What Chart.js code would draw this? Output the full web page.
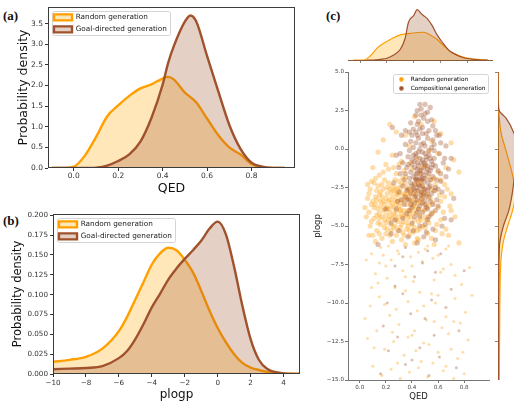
<!DOCTYPE html>
<html>
<head>
<meta charset="utf-8">
<script src="https://cdn.jsdelivr.net/npm/chart.js@4.4.1/dist/chart.umd.min.js"></script>
<style>
    html, body { margin: 0; padding: 0; background: #fff; }
    body { width: 514px; height: 402px; position: relative; overflow: hidden; }
    .box { position: absolute; }
    .tag { position: absolute; font-family: 'Liberation Serif', serif; font-weight: bold; font-size: 13px; line-height: 1; color: #111; }
</style>
</head>
<body>
<div class="tag" style="left:3px; top:9px;">(a)</div>
<div class="tag" style="left:3px; top:214px;">(b)</div>
<div class="tag" style="left:326px; top:9px;">(c)</div>
<div class="box" style="left:10px; top:0; width:290px; height:200px;"><canvas id="qedChart"></canvas></div>
<div class="box" style="left:5px; top:200px; width:295px; height:202px;"><canvas id="plogpChart"></canvas></div>
<div class="box" style="left:308px; top:66px; width:185px; height:336px;"><canvas id="scatterChart"></canvas></div>
<div class="box" style="left:348px; top:0; width:145px; height:64px;"><canvas id="topChart"></canvas></div>
<div class="box" style="left:494px; top:72px; width:60px; height:308px;"><canvas id="sideChart"></canvas></div>
<script>
// (a) QED densities, [qed, density]
const qedRandom = [[-0.1, 0], [-0.05, 0], [0, 0.03], [0.05, 0.3], [0.1, 0.75], [0.15, 1.25], [0.2, 1.52], [0.25, 1.75],
    [0.3, 1.93], [0.35, 2.03], [0.4, 2.17], [0.425, 2.21], [0.45, 2.15], [0.5, 1.83], [0.525, 1.72], [0.55, 1.6],
    [0.6, 1.2], [0.65, 0.8], [0.7, 0.5], [0.75, 0.33], [0.8, 0.1], [0.85, 0.02], [0.9, 0], [0.95, 0]];
const qedGoal = [[-0.1, 0], [0, 0], [0.05, 0], [0.1, 0.01], [0.15, 0.06], [0.2, 0.17], [0.25, 0.33], [0.3, 0.64],
    [0.35, 1.22], [0.4, 2.02], [0.425, 2.55], [0.45, 2.95], [0.5, 3.55], [0.525, 3.7], [0.55, 3.57], [0.6, 2.72],
    [0.65, 1.87], [0.7, 1.05], [0.75, 0.47], [0.8, 0.13], [0.85, 0.03], [0.9, 0], [0.95, 0]];
const qedTicks = [0, 0.2, 0.4, 0.6, 0.8];
const qedDensityTicks = [0, 0.5, 1, 1.5, 2, 2.5, 3, 3.5];

// (b) plogp densities, [plogp, density]
const plogpRandom = [[-10, 0.0152], [-9, 0.0178], [-8, 0.0217], [-7, 0.032], [-6, 0.054], [-5.5, 0.072], [-5, 0.094],
    [-4.5, 0.116], [-4, 0.138], [-3.5, 0.152], [-3, 0.159], [-2.5, 0.156], [-2, 0.144], [-1.5, 0.128], [-1, 0.105],
    [-0.5, 0.08], [0, 0.058], [0.5, 0.04], [1, 0.025], [1.5, 0.014], [2, 0.008], [2.5, 0.005], [3, 0.0026], [4, 0.0008], [5, 0.0002]];
const plogpGoal = [[-10, 0.006], [-9, 0.0068], [-8, 0.0076], [-7, 0.01], [-6, 0.02], [-5.5, 0.029], [-5, 0.044],
    [-4.5, 0.063], [-4, 0.084], [-3.5, 0.101], [-3, 0.119], [-2.5, 0.133], [-2, 0.145], [-1.5, 0.156], [-1, 0.168],
    [-0.5, 0.183], [0, 0.192], [0.5, 0.176], [1, 0.135], [1.5, 0.086], [2, 0.044], [2.5, 0.018], [3, 0.0065], [4, 0.0008], [5, 0.0001]];
const plogpTicks = [-10, -8, -6, -4, -2, 0, 2, 4];
const plogpDensityTicks = [0, 0.025, 0.05, 0.075, 0.1, 0.125, 0.15, 0.175, 0.2];

// (c) marginals
const topRandom = [[-0.05, 0], [0.025, 0], [0.075, 0.3], [0.125, 0.87], [0.175, 1.24], [0.225, 1.53], [0.275, 1.78],
    [0.325, 1.93], [0.375, 1.98], [0.425, 2.05], [0.475, 2.07], [0.525, 1.85], [0.575, 1.53], [0.625, 1.04],
    [0.675, 0.61], [0.725, 0.37], [0.775, 0.2], [0.825, 0.1], [0.875, 0.04], [0.95, 0]];
const topComp = [[0.05, 0], [0.1, 0], [0.15, 0.05], [0.2, 0.13], [0.25, 0.37], [0.3, 0.8], [0.335, 1.6], [0.36, 2.8],
    [0.4, 3.33], [0.425, 3.75], [0.46, 3.41], [0.5, 3.09], [0.535, 2.6], [0.575, 1.85], [0.61, 1.36], [0.66, 0.74],
    [0.71, 0.42], [0.77, 0.17], [0.85, 0.05], [0.9, 0], [0.95, 0]];
const sideRandom = [[-15, 0.012], [-14, 0.013], [-13, 0.014], [-12, 0.015], [-11, 0.016], [-10, 0.017], [-9, 0.019],
    [-8, 0.022], [-7, 0.03], [-6, 0.05], [-5, 0.09], [-4, 0.135], [-3, 0.16], [-2, 0.145], [-1, 0.11], [0, 0.07],
    [1, 0.03], [2, 0.012], [3, 0.005], [4, 0.002], [5, 0.0005]];
const sideComp = [[-15, 0.004], [-12, 0.005], [-10, 0.006], [-8, 0.008], [-7, 0.01], [-6, 0.018], [-5, 0.05], [-4, 0.1],
    [-3, 0.13], [-2, 0.15], [-1, 0.18], [0, 0.19], [1, 0.15], [2, 0.075], [2.5, 0.01], [3, 0.002], [4, 0.001], [5, 0]];
const scatterPlogpTicks = [-15, -12.5, -10, -7.5, -5, -2.5, 0, 2.5, 5];

// (c) scatter, [qed, plogp]
const scatterRandom = [
    [0.12,-3.1],[0.15,-4.2],[0.18,-2.6],[0.21,-3.8],[0.24,-4.9],[0.27,-3.3],[0.30,-2.1],[0.33,-4.4],[0.36,-3.6],[0.39,-2.8],
    [0.42,-5.1],[0.45,-3.9],[0.48,-2.4],[0.51,-4.6],[0.54,-3.2],[0.57,-1.9],[0.13,-5.3],[0.16,-3.7],[0.19,-4.6],[0.22,-2.2],
    [0.25,-3.5],[0.28,-5.6],[0.31,-4.0],[0.34,-2.9],[0.37,-5.0],[0.40,-3.4],[0.43,-2.0],[0.46,-4.3],[0.49,-3.0],[0.52,-5.5],
    [0.55,-2.6],[0.60,-3.8],[0.11,-4.5],[0.14,-2.4],[0.17,-5.8],[0.20,-3.2],[0.23,-4.1],[0.26,-2.7],[0.29,-4.7],[0.32,-3.5],
    [0.35,-1.8],[0.38,-4.2],[0.41,-3.7],[0.44,-5.3],[0.47,-2.9],[0.50,-3.9],[0.53,-4.8],[0.58,-2.7],[0.62,-4.6],[0.65,-3.1],
    [0.09,-3.6],[0.18,-3.4],[0.21,-5.2],[0.24,-2.8],[0.27,-4.3],[0.30,-3.7],[0.33,-5.4],[0.36,-2.5],[0.39,-3.9],[0.42,-4.6],
    [0.45,-2.2],[0.48,-5.0],[0.51,-3.6],[0.56,-4.1],[0.15,-3.0],[0.22,-3.9],[0.29,-3.0],[0.34,-4.0],[0.26,-5.1],[0.31,-2.6],
    [0.37,-3.2],[0.43,-3.0],[0.19,-2.0],[0.25,-6.0],[0.35,-6.2],[0.45,-5.9],[0.55,-5.8],[0.66,-5.2],[0.70,-4.0],[0.08,-2.6],
    [0.62,-2.0],[0.28,-1.6],[0.40,-1.3],[0.16,-6.4],[0.12,-1.9],[0.23,-3.3],[0.28,-4.0],[0.32,-4.9],[0.17,-4.4],[0.38,-5.6],
    [0.07,-4.1],[0.10,-3.4],[0.13,-2.7],[0.16,-4.9],[0.19,-3.9],[0.22,-4.6],[0.25,-2.4],[0.28,-3.6],[0.31,-5.1],[0.34,-3.3],
    [0.37,-4.5],[0.40,-2.6],[0.43,-3.8],[0.46,-5.2],[0.49,-4.0],[0.08,-5.0],[0.11,-2.2],[0.14,-3.9],[0.17,-3.1],[0.20,-4.3],
    [0.23,-5.6],[0.26,-3.8],[0.29,-2.5],[0.32,-4.2],[0.35,-3.0],[0.38,-5.3],[0.41,-4.1],[0.44,-2.7],[0.47,-3.5],[0.50,-4.4],
    [0.06,-3.2],[0.09,-4.7],[0.12,-3.6],[0.15,-5.5],[0.18,-4.0],[0.21,-2.9],[0.24,-3.7],[0.27,-5.0],[0.30,-4.4],[0.33,-3.0],
    [0.36,-4.8],[0.39,-3.3],[0.42,-2.3],[0.45,-4.7],[0.48,-3.2],[0.10,-5.6],[0.13,-4.3],[0.16,-2.8],[0.19,-5.1],[0.22,-3.4],
    [0.25,-4.5],[0.28,-2.9],[0.31,-3.3],[0.34,-5.6],[0.37,-2.7],[0.40,-4.9],[0.43,-4.2],[0.46,-3.4],[0.52,-2.9],[0.54,-4.3],
    [0.14,-4.8],[0.17,-2.3],[0.20,-5.5],[0.23,-2.6],[0.26,-4.2],[0.29,-3.4],[0.32,-2.3],[0.35,-4.3],[0.38,-3.0],[0.41,-5.4],
    [0.44,-3.5],[0.47,-4.6],[0.56,-3.5],[0.59,-4.9],[0.61,-3.0],[0.64,-4.1],[0.58,-2.3],[0.63,-5.5],[0.67,-2.6],[0.69,-3.7],
    [0.12,-6.0],[0.22,-6.3],[0.32,-5.9],[0.42,-6.1],[0.52,-6.3],[0.18,-1.5],[0.26,-1.2],[0.34,-1.4],[0.46,-1.6],[0.52,-1.8],
    [0.05,-4.4],[0.07,-2.9],[0.15,-1.7],[0.22,-1.3],[0.30,-1.0],[0.39,-0.9],[0.48,-1.2],[0.55,-2.0],[0.60,-1.5],[0.65,-2.3],
    [0.27,-2.0],[0.33,-1.9],[0.21,-2.5],[0.24,-5.3],[0.36,-5.2],[0.44,-5.8],[0.50,-5.1],[0.16,-3.4],[0.28,-4.6],[0.30,-2.8],
    [0.13,-3.3],[0.19,-3.6],[0.25,-3.1],[0.31,-3.9],[0.37,-4.0],[0.43,-3.3],[0.49,-2.7],[0.35,-2.2],[0.40,-3.6],[0.27,-2.6],
    [0.20,-4.8],[0.29,-5.3],[0.39,-4.4],[0.11,-3.8],[0.15,-4.5],[0.23,-4.4],[0.33,-4.7],[0.41,-2.9],[0.47,-2.1],[0.53,-3.7],
    [0.58,-5.3],[0.62,-3.4],[0.70,-2.9],[0.73,-4.4],[0.68,-5.6],[0.07,-5.6],[0.04,-3.8],[0.09,-2.1],[0.57,-6.2],[0.66,-6.5],
    [0.20,-1.0],[0.25,-0.4],[0.32,-0.8],[0.38,0.2],[0.44,-0.6],[0.50,-1.1],[0.55,0.5],[0.60,-0.3],[0.66,-1.2],[0.72,-0.7],
    [0.18,0.6],[0.28,1.1],[0.47,1.6],[0.35,0.9],[0.62,1.0],[0.14,-0.2],[0.42,2.1],[0.53,-0.1],[0.70,0.4],[0.10,-1.2],
    [0.57,1.8],[0.23,1.6],[0.76,-1.5],[0.06,-2.3],
    [0.05,-7.2],[0.12,-8.1],[0.20,-7.6],[0.27,-9.0],[0.33,-7.9],[0.41,-8.6],[0.48,-7.3],[0.55,-9.4],[0.62,-8.0],[0.70,-7.5],
    [0.78,-8.8],[0.84,-7.7],[0.08,-10.2],[0.15,-9.6],[0.23,-10.8],[0.30,-11.4],[0.37,-9.9],[0.44,-10.5],[0.51,-11.1],[0.58,-10.0],
    [0.66,-10.9],[0.73,-9.7],[0.81,-10.6],[0.06,-12.3],[0.13,-11.8],[0.19,-13.0],[0.26,-12.5],[0.34,-13.4],[0.40,-12.1],[0.47,-13.8],
    [0.53,-12.7],[0.60,-13.2],[0.68,-12.0],[0.75,-13.6],[0.83,-12.4],[0.10,-14.1],[0.17,-14.7],[0.24,-14.3],[0.31,-14.9],[0.38,-14.5],
    [0.45,-14.2],[0.52,-14.8],[0.64,-14.4],[0.72,-14.9],[0.80,-14.6],[0.09,-6.8],[0.18,-6.9],[0.29,-6.6],[0.39,-7.0],[0.50,-6.5],
    [0.60,-6.9],[0.68,-6.3],[0.76,-6.1],[0.14,-8.7],[0.35,-8.3],[0.57,-8.5],[0.46,-9.3],[0.25,-11.9],[0.63,-11.6],[0.42,-11.8],
    [0.77,-11.3],[0.21,-8.4],[0.09,-9.0],[0.86,-9.5],[0.49,-12.6],[0.29,-13.9],[0.57,-11.2],[0.70,-13.0],[0.04,-11.0],
    [0.30,-6.8],[0.45,-6.7],[0.24,-7.2],[0.40,-7.6],[0.56,-7.1],[0.15,-7.4],[0.64,-7.8],[0.73,-8.2],[0.35,-9.2],[0.60,-9.5],
    [0.19,-10.1],[0.49,-10.2],[0.28,-10.4],[0.72,-11.2],[0.11,-12.9],[0.37,-12.2],[0.56,-13.9],[0.66,-14.1],[0.79,-13.2],[0.43,-13.1]
];
const scatterComp = [
    [0.40,-1.0],[0.43,-1.6],[0.46,-0.6],[0.49,-2.1],[0.52,-1.3],[0.45,-2.7],[0.48,-0.2],[0.51,-3.0],[0.42,-2.3],[0.55,-0.8],
    [0.38,-1.9],[0.47,-1.4],[0.50,-2.6],[0.53,-0.4],[0.44,-3.3],[0.41,0.1],[0.56,-1.8],[0.39,-2.9],[0.46,-3.7],[0.52,-2.2],
    [0.49,0.4],[0.36,-1.2],[0.58,-2.5],[0.43,-0.3],[0.47,-2.0],[0.54,-3.4],[0.35,-3.1],[0.50,-1.0],[0.45,0.7],[0.40,-3.8],
    [0.57,-0.1],[0.33,-2.4],[0.48,-4.1],[0.53,-1.6],[0.42,-1.2],[0.44,-0.9],[0.51,-0.7],[0.46,-1.9],[0.60,-1.4],[0.37,-0.5],
    [0.55,-2.9],[0.31,-1.6],[0.62,-2.1],[0.48,1.0],[0.42,-4.4],[0.52,-3.9],[0.39,0.5],[0.56,0.6],[0.34,-3.6],[0.59,-3.3],
    [0.47,-2.8],[0.44,-2.0],[0.50,-0.3],[0.41,-2.6],[0.49,-1.7],[0.45,-1.1],[0.54,-2.4],[0.38,-3.3],[0.43,0.4],[0.53,1.2],
    [0.30,-2.8],[0.64,-0.9],[0.36,-4.2],[0.58,-4.0],[0.46,-5.0],[0.40,-4.8],[0.28,-3.9],[0.52,-4.6],[0.33,-0.9],[0.61,-0.3],
    [0.26,-2.2],[0.66,-1.8],[0.47,-3.2],[0.43,-3.0],[0.50,-3.6],[0.55,-1.2],[0.39,-1.5],[0.48,-2.4],
    [0.41,-0.4],[0.44,-1.3],[0.47,-0.9],[0.50,-1.9],[0.53,-0.1],[0.46,-2.4],[0.49,-1.2],[0.52,-2.7],[0.43,-2.0],[0.56,-1.0],
    [0.39,-2.2],[0.48,-0.7],[0.51,-1.5],[0.54,-2.0],[0.45,-0.2],[0.42,-3.5],[0.57,-2.7],[0.40,-0.7],[0.47,-3.0],[0.50,0.2],
    [0.37,-2.6],[0.44,0.9],[0.53,-3.1],[0.46,1.3],[0.49,-2.6],[0.55,0.1],[0.38,-0.1],[0.52,0.7],[0.43,-1.9],[0.58,-1.1],
    [0.35,-1.6],[0.60,-2.6],[0.45,-3.9],[0.48,-1.9],[0.51,-0.5],[0.42,-0.8],[0.54,-1.4],[0.47,0.3],[0.40,-2.4],[0.56,-3.6],
    [0.44,-2.5],[0.50,-3.3],[0.46,-1.4],[0.53,-2.5],[0.41,-1.8],[0.49,-0.9],[0.57,-0.6],[0.36,-3.3],[0.62,-1.6],[0.45,1.8],
    [0.48,1.4],[0.51,1.0],[0.43,1.1],[0.55,1.9],[0.47,2.2],[0.50,2.9],[0.44,2.5],[0.52,2.4],[0.39,1.7],[0.58,1.2],
    [0.34,-2.0],[0.32,-3.3],[0.38,-4.0],[0.42,-3.1],[0.55,-4.2],[0.60,-3.7],[0.63,-2.8],[0.65,-0.6],[0.30,-1.2],[0.29,-3.4],
    [0.46,-4.4],[0.50,-4.9],[0.44,-4.1],[0.53,-4.4],[0.39,-3.6],[0.36,-2.7],[0.33,-4.5],[0.41,-5.3],[0.49,-5.7],[0.56,-5.2],
    [0.27,-4.6],[0.31,-0.3],[0.68,-1.3],[0.61,0.9],[0.35,1.2],[0.47,-1.6],[0.52,-1.1],[0.45,-2.3],[0.48,-3.5],[0.43,-0.5],
    [0.40,0.9],[0.57,0.3],[0.59,-2.0],[0.37,-1.0],[0.54,-0.6],[0.46,0.0],[0.49,-2.9],[0.42,-2.7],[0.51,-3.8],[0.44,-1.6],
    [0.44,1.6],[0.49,2.0],[0.47,2.6],[0.52,1.8],[0.41,1.3],[0.56,1.5],[0.46,2.9],[0.38,1.1],[0.59,0.9],[0.50,2.3],
    [0.35,0.3],[0.62,0.4],[0.43,2.2],[0.54,2.7],[0.32,0.9],[0.66,0.2],[0.28,-0.4],[0.70,-0.6],[0.25,1.4],
    [0.30,-5.3],[0.37,-5.7],[0.44,-6.1],[0.51,-5.4],[0.58,-5.9],[0.24,-4.8],[0.65,-4.5],[0.20,-3.9],[0.72,-3.2],[0.33,-7.0],
    [0.48,-7.4],[0.62,-6.8],[0.27,-8.9],[0.55,-9.8],[0.39,-10.7],[0.70,-9.1],[0.18,-11.5],[0.46,-12.9],[0.61,-13.5],[0.35,-14.0],
    [0.76,-11.8],[0.14,-6.2],[0.80,-7.9],[0.22,-13.1],
    [0.24,-5.5],[0.35,-6.4],[0.52,-6.6],[0.63,-5.0],[0.70,-4.6],[0.27,-7.6],[0.42,-8.3],[0.58,-8.0],[0.33,-9.4],[0.66,-10.3],
    [0.21,-10.0],[0.50,-11.0],[0.29,-12.2],[0.57,-12.1],[0.40,-13.7],[0.74,-14.2],[0.16,-14.6],[0.53,-14.7]
];

const FONT = 'DejaVu Sans';
const ORANGE = '#ffa000';
const SIENNA = '#a0522d';
const ORANGE_FILL = 'rgba(255,165,0,0.27)';
const SIENNA_FILL = 'rgba(160,82,45,0.27)';

Chart.defaults.animation = false;
Chart.defaults.font.family = FONT;

const fmt = (v, d) => v.toFixed(d).replace('-', '\u2212');

// matplotlib-like box around the axes
const frame = {
    id: 'frame',
    afterDatasetsDraw(chart) {
        const { ctx, chartArea: a } = chart;
        ctx.save();
        ctx.strokeStyle = '#3c3c3c';
        ctx.lineWidth = 1;
        ctx.strokeRect(a.left + 0.5, a.top + 0.5, a.right - a.left - 1, a.bottom - a.top - 1);
        ctx.restore();
    }
};

// put the legend inside the axes and draw its rounded frame
const legendPlace = {
    id: 'legendPlace',
    afterLayout(chart, args, opts) {
        const lg = chart.legend, a = chart.chartArea;
        if (!lg || !opts || opts.dx === undefined) return;
        lg.left = opts.right ? a.right - lg.width - opts.dx : a.left + opts.dx;
        lg.top = a.top + opts.dy;
        lg.right = lg.left + lg.width + 6;
        lg.bottom = lg.top + lg.height;
    },
    beforeDraw(chart, args, opts) {
        const hb = chart.legend && chart.legend.legendHitBoxes;
        if (!hb || !hb.length || !opts || opts.dx === undefined) return;
        const p = opts.pad;
        const l = Math.min(...hb.map(b => b.left)) - p[0];
        const t = Math.min(...hb.map(b => b.top)) - p[1];
        const r = Math.max(...hb.map(b => b.left + b.width)) + p[2];
        const btm = Math.max(...hb.map(b => b.top + b.height)) + p[3];
        const ctx = chart.ctx;
        ctx.save();
        ctx.beginPath();
        ctx.roundRect(Math.round(l) + 0.5, Math.round(t) + 0.5, Math.round(r - l), Math.round(btm - t), 2);
        ctx.fillStyle = 'rgba(255,255,255,0.85)';
        ctx.fill();
        ctx.strokeStyle = '#d4d4d4';
        ctx.lineWidth = 1;
        ctx.stroke();
        ctx.restore();
    }
};

function toPoints(pairs) {
    return pairs.map(p => ({ x: p[0], y: p[1] }));
}

function densityChart(id, cfg) {
    const ctx = document.getElementById(id).getContext('2d');
    return new Chart(ctx, {
        type: 'line',
        data: {
            datasets: [{
                label: 'Random generation',
                data: toPoints(cfg.random),
                borderColor: ORANGE,
                backgroundColor: ORANGE_FILL,
                borderWidth: 2.4,
                fill: 'origin',
                order: 1
            }, {
                label: 'Goal-directed generation',
                data: toPoints(cfg.goal),
                borderColor: SIENNA,
                backgroundColor: SIENNA_FILL,
                borderWidth: 2.4,
                fill: 'origin',
                order: 0
            }]
        },
        options: {
            responsive: true,
            maintainAspectRatio: false,
            layout: { padding: cfg.padding },
            elements: { point: { radius: 0 }, line: { cubicInterpolationMode: 'monotone' } },
            plugins: {
                legend: {
                    position: 'chartArea',
                    align: 'start',
                    labels: {
                        boxWidth: 18, boxHeight: 6, padding: 4.7, color: '#222', font: { size: 7.3 },
                        sort: (a, b) => a.datasetIndex - b.datasetIndex
                    }
                },
                legendPlace: { dx: cfg.legendDx, dy: cfg.legendDy, pad: [2, 2.5, 3.5, 2] },
                tooltip: { enabled: false }
            },
            scales: {
                x: {
                    type: 'linear',
                    min: cfg.xMin,
                    max: cfg.xMax,
                    afterBuildTicks: s => { s.ticks = cfg.xTicks.map(v => ({ value: v })); },
                    afterFit: s => { s.height = cfg.xHeight; },
                    ticks: { callback: v => fmt(v, cfg.xDigits), color: '#333', font: { size: cfg.tickSize }, padding: cfg.xTickPad, maxRotation: 0, autoSkip: false },
                    grid: { drawOnChartArea: false, tickLength: 3, color: '#333' },
                    border: { display: false },
                    title: { display: true, text: cfg.xTitle, color: '#111', font: { size: cfg.xTitleSize }, padding: { top: 0, bottom: cfg.xTitlePad } }
                },
                y: {
                    type: 'linear',
                    min: 0,
                    max: cfg.yMax,
                    afterBuildTicks: s => { s.ticks = cfg.yTicks.map(v => ({ value: v })); },
                    afterFit: s => { s.width = cfg.yWidth; },
                    ticks: { callback: v => fmt(v, cfg.yDigits), color: '#333', font: { size: cfg.tickSize }, padding: 2, autoSkip: false },
                    grid: { drawOnChartArea: false, tickLength: 3, color: '#333' },
                    border: { display: false },
                    title: { display: true, text: 'Probability density', color: '#111', font: { size: cfg.yTitleSize }, padding: { top: cfg.yTitlePad, bottom: 0 } }
                }
            }
        },
        plugins: [frame, legendPlace]
    });
}

// (a) QED
densityChart('qedChart', {
    random: qedRandom, goal: qedGoal,
    xMin: -0.116, xMax: 0.996, yMax: 3.905,
    xTicks: qedTicks, yTicks: qedDensityTicks, xDigits: 1, yDigits: 1,
    xTitle: 'QED', xTitleSize: 12.5, yTitleSize: 12.5, tickSize: 7.5,
    padding: { top: 7, right: 5, left: 0, bottom: 0 },
    xHeight: 32, yWidth: 38, xTickPad: 1, xTitlePad: 4, yTitlePad: 6,
    legendDx: 1.3, legendDy: 2
});

// (b) plogp
densityChart('plogpChart', {
    random: plogpRandom, goal: plogpGoal,
    xMin: -10, xMax: 5, yMax: 0.2016,
    xTicks: plogpTicks, yTicks: plogpDensityTicks, xDigits: 0, yDigits: 3,
    xTitle: 'plogp', xTitleSize: 12, yTitleSize: 11.5, tickSize: 7.2,
    padding: { top: 14, right: 0, left: 0, bottom: 0 },
    xHeight: 28, yWidth: 48, xTickPad: 2, xTitlePad: 0, yTitlePad: 6,
    legendDx: 1.3, legendDy: 2
});

// (c) scatter with marginal densities
function dot(color) {
    const c = document.createElement('canvas');
    c.width = 5;
    c.height = 5;
    const g = c.getContext('2d');
    g.fillStyle = color;
    g.beginPath();
    g.arc(2.5, 2.5, 2.2, 0, Math.PI * 2);
    g.fill();
    return c;
}
const legendDots = [dot(ORANGE), dot(SIENNA)];

// the dense cloud uses bigger marks than the sparse low-plogp tail
const cloudRadius = c => (c.raw && c.raw[1] < -6.2 ? 1.5 : 2.6);

new Chart(document.getElementById('scatterChart').getContext('2d'), {
    type: 'scatter',
    data: {
        datasets: [{
            label: 'Random generation',
            data: scatterRandom,
            backgroundColor: 'rgba(255,160,20,0.36)',
            borderWidth: 0,
            pointRadius: cloudRadius,
            order: 1
        }, {
            label: 'Compositional generation',
            data: scatterComp,
            backgroundColor: 'rgba(160,82,45,0.36)',
            borderWidth: 0,
            pointRadius: cloudRadius,
            order: 0
        }]
    },
    options: {
        responsive: true,
        maintainAspectRatio: false,
        layout: { padding: { top: 6, right: 0, left: 0, bottom: 0 } },
        plugins: {
            legend: {
                position: 'chartArea',
                align: 'start',
                labels: {
                    usePointStyle: true,
                    pointStyleWidth: 13,
                    padding: 3.2,
                    color: '#222',
                    font: { size: 5.8 },
                    generateLabels: chart => chart.data.datasets.map((ds, i) => ({
                        text: ds.label, datasetIndex: i, pointStyle: legendDots[i],
                        fillStyle: 'transparent', strokeStyle: 'transparent', lineWidth: 0, hidden: false
                    }))
                }
            },
            legendPlace: { right: true, dx: -6.5, dy: 1.2, pad: [1.8, 2, 2.3, 2] },
            tooltip: { enabled: false }
        },
        scales: {
            x: {
                type: 'linear',
                min: -0.09,
                max: 0.99,
                afterBuildTicks: s => { s.ticks = qedTicks.map(v => ({ value: v })); },
                afterFit: s => { s.height = 22; },
                ticks: { callback: v => fmt(v, 1), color: '#444', font: { size: 5.6 }, padding: 1, maxRotation: 0, autoSkip: false },
                grid: { drawOnChartArea: false, tickLength: 3, color: '#777' },
                border: { color: '#777' },
                title: { display: true, text: 'QED', color: '#222', font: { size: 8.5 }, padding: { top: 0, bottom: 0 } }
            },
            y: {
                type: 'linear',
                min: -15,
                max: 5,
                afterBuildTicks: s => { s.ticks = scatterPlogpTicks.map(v => ({ value: v })); },
                afterFit: s => { s.width = 40; },
                ticks: { callback: v => fmt(v, 1), color: '#444', font: { size: 5.6 }, padding: 1, autoSkip: false },
                grid: { drawOnChartArea: false, tickLength: 3, color: '#777' },
                border: { color: '#777' },
                title: { display: true, text: 'plogp', color: '#222', font: { size: 8.5 }, padding: { top: 5, bottom: 0 } }
            }
        }
    },
    plugins: [legendPlace]
});

// top marginal: QED density
new Chart(document.getElementById('topChart').getContext('2d'), {
    type: 'line',
    data: {
        datasets: [{
            data: toPoints(topRandom), borderColor: ORANGE, backgroundColor: ORANGE_FILL,
            borderWidth: 1.2, fill: 'origin', order: 1
        }, {
            data: toPoints(topComp), borderColor: SIENNA, backgroundColor: SIENNA_FILL,
            borderWidth: 1.2, fill: 'origin', order: 0
        }]
    },
    options: {
        responsive: true,
        maintainAspectRatio: false,
        layout: { padding: { top: 5, right: 0, left: 0, bottom: 0 } },
        elements: { point: { radius: 0 }, line: { cubicInterpolationMode: 'monotone' } },
        plugins: { legend: { display: false }, tooltip: { enabled: false } },
        scales: {
            x: {
                type: 'linear', min: -0.09, max: 0.99,
                afterBuildTicks: s => { s.ticks = qedTicks.map(v => ({ value: v })); },
                afterFit: s => { s.height = 4; },
                ticks: { display: false },
                grid: { drawOnChartArea: false, tickLength: 3, color: '#888' },
                border: { color: '#8c5a32' }
            },
            y: { type: 'linear', min: 0, max: 4.1, display: false }
        }
    }
});

// right marginal: plogp density
new Chart(document.getElementById('sideChart').getContext('2d'), {
    type: 'line',
    data: {
        datasets: [{
            data: toPoints(sideRandom.map(p => [p[1], p[0]])), borderColor: ORANGE, backgroundColor: ORANGE_FILL,
            borderWidth: 1.2, fill: 'origin', order: 1
        }, {
            data: toPoints(sideComp.map(p => [p[1], p[0]])), borderColor: SIENNA, backgroundColor: SIENNA_FILL,
            borderWidth: 1.2, fill: 'origin', order: 0
        }]
    },
    options: {
        indexAxis: 'y',
        responsive: true,
        maintainAspectRatio: false,
        layout: { padding: 0 },
        elements: { point: { radius: 0 }, line: { cubicInterpolationMode: 'monotone' } },
        plugins: { legend: { display: false }, tooltip: { enabled: false } },
        scales: {
            x: { type: 'linear', min: 0, max: 0.52, display: false },
            y: {
                type: 'linear', min: -15, max: 5,
                afterBuildTicks: s => { s.ticks = scatterPlogpTicks.map(v => ({ value: v })); },
                afterFit: s => { s.width = 4; },
                ticks: { display: false },
                grid: { drawOnChartArea: false, tickLength: 3, color: '#888' },
                border: { color: '#8c5a32' }
            }
        }
    }
});
</script>
</body>
</html>
